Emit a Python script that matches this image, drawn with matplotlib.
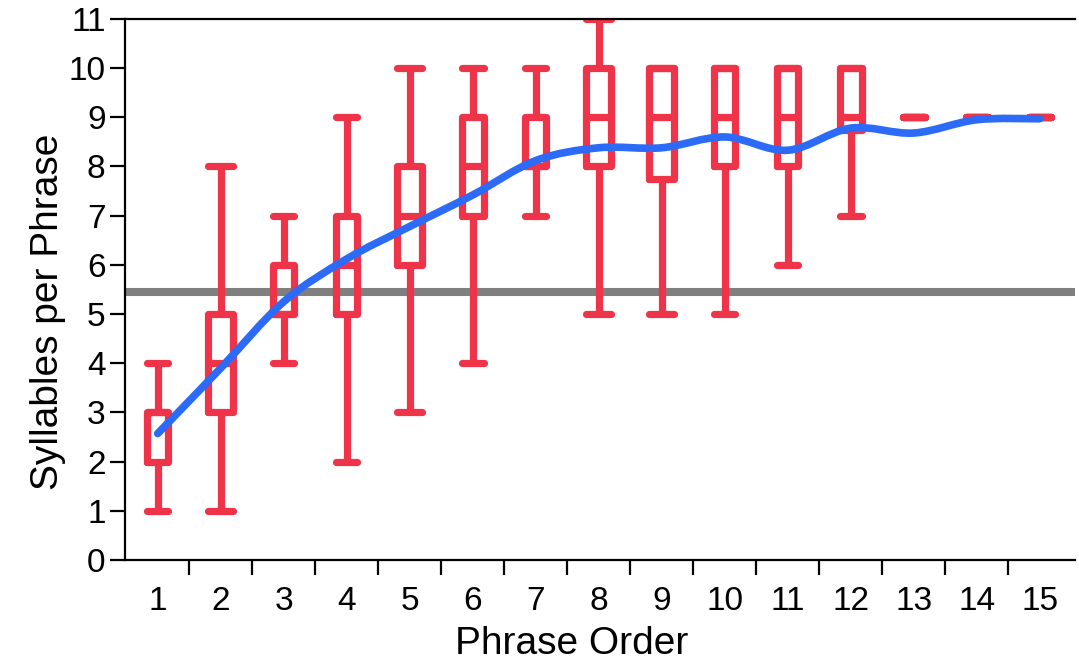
import matplotlib
matplotlib.use("Agg")
import matplotlib.pyplot as plt
from matplotlib.path import Path
from matplotlib.patches import PathPatch

plt.rcParams['font.family'] = ['Liberation Sans', 'DejaVu Sans']

# phrase order 1..15
order = list(range(1, 16))
whis_lo = [1, 1, 4, 2, 3, 4, 7, 5, 5, 5, 6, 7, 9, 9, 9]
q1 = [2, 3, 5, 5, 6, 7, 8, 8, 7.75, 8, 8, 8.75, 9, 9, 9]
median = [3, 4, 5, 6, 7, 8, 8, 9, 9, 9, 9, 9, 9, 9, 9]
q3 = [3, 5, 6, 7, 8, 9, 9, 10, 10, 10, 10, 10, 9, 9, 9]
whis_hi = [4, 8, 7, 9, 10, 10, 10, 11, 10, 10, 10, 10, 9, 9, 9]
means = [2.57, 3.9, 5.25, 6.12, 6.78, 7.42, 8.12, 8.38, 8.38, 8.6, 8.33, 8.78, 8.68, 8.95, 8.97]
overall_mean = 5.45
box_w = [0.33, 0.4, 0.33, 0.33, 0.4, 0.35, 0.33, 0.4, 0.4, 0.33, 0.33, 0.35, 0.35, 0.35, 0.35]

red = '#ef3349'
blue = '#2b6bf8'


def smooth_path(xs, ys, t=0.5):
    # catmull-rom through the points, as cubic bezier segments
    verts = [(xs[0], ys[0])]
    codes = [Path.MOVETO]
    n = len(xs)
    for i in range(n - 1):
        x0, y0 = (xs[i - 1], ys[i - 1]) if i > 0 else (xs[i], ys[i])
        x1, y1 = xs[i], ys[i]
        x2, y2 = xs[i + 1], ys[i + 1]
        x3, y3 = (xs[i + 2], ys[i + 2]) if i + 2 < n else (x2, y2)
        c1 = (x1 + (x2 - x0) * t / 3, y1 + (y2 - y0) * t / 3)
        c2 = (x2 - (x3 - x1) * t / 3, y2 - (y3 - y1) * t / 3)
        verts += [c1, c2, (x2, y2)]
        codes += [Path.CURVE4] * 3
    return Path(verts, codes)


fig = plt.figure(figsize=(10.79, 6.68), dpi=100)
ax = fig.add_axes([0.1158, 0.1617, 0.8805, 0.81])

stats = []
for i in range(len(order)):
    stats.append({'med': median[i], 'q1': q1[i], 'q3': q3[i],
                  'whislo': whis_lo[i], 'whishi': whis_hi[i], 'fliers': []})

lw = 5.2
ax.axhline(overall_mean, color='#7f7f7f', lw=5.8, zorder=1)
ax.bxp(stats, positions=order, widths=box_w, capwidths=box_w, showfliers=False,
       boxprops=dict(color=red, lw=lw, solid_joinstyle='round', solid_capstyle='round'),
       whiskerprops=dict(color=red, lw=lw, solid_capstyle='butt'),
       capprops=dict(color=red, lw=lw, solid_capstyle='round'),
       medianprops=dict(color=red, lw=lw, solid_capstyle='butt'),
       manage_ticks=False, zorder=2)
ax.add_patch(PathPatch(smooth_path(order, means), facecolor='none', edgecolor=blue,
                       lw=5.5, capstyle='round', joinstyle='round', zorder=3))

ax.set_xlim(0.48, 15.56)
ax.set_ylim(0, 11)
ax.set_yticks(range(0, 12))
ax.set_xticks(order)
ax.set_xticks([i + 0.5 for i in order[:-1]], minor=True)
ax.tick_params(axis='x', which='major', length=0, pad=19, labelsize=24)
ax.tick_params(axis='x', which='minor', length=11, width=1.6, direction='out')
ax.tick_params(axis='y', length=11, width=1.6, labelsize=24, pad=3)
ax.spines['right'].set_visible(False)
for s in ['left', 'bottom', 'top']:
    ax.spines[s].set_linewidth(1.6)

ax.set_xlabel('Phrase Order', fontsize=28)
ax.set_ylabel('Syllables per Phrase', fontsize=28)
ax.xaxis.set_label_coords(0.47, -0.122)
ax.yaxis.set_label_coords(-0.062, 0.458)

fig.savefig('out.png', dpi=100)
